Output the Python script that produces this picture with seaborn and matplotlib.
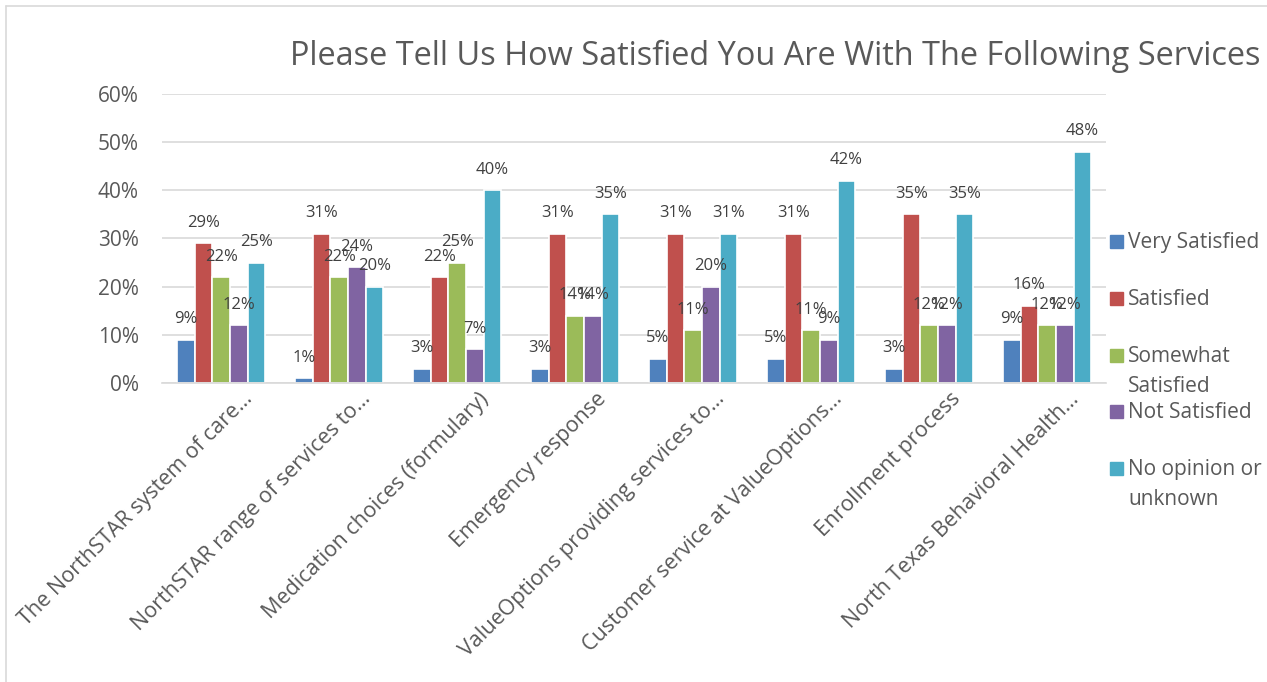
import matplotlib
matplotlib.use("Agg")
import matplotlib.pyplot as plt
import matplotlib.transforms as mtransforms
from matplotlib.lines import Line2D
from matplotlib.patches import Rectangle
import seaborn as sns
import pandas as pd

categories = [
    "The NorthSTAR system of care…",
    "NorthSTAR range of services to…",
    "Medication choices (formulary)",
    "Emergency response",
    "ValueOptions providing services to…",
    "Customer service at ValueOptions…",
    "Enrollment process",
    "North Texas Behavioral Health…",
]
series_names = ["Very Satisfied", "Satisfied", "Somewhat Satisfied",
                "Not Satisfied", "No opinion or unknown"]
legend_labels = ["Very Satisfied", "Satisfied", "Somewhat\nSatisfied",
                 "Not Satisfied", "No opinion or\nunknown"]
very_satisfied = [9, 1, 3, 3, 5, 5, 3, 9]
satisfied = [29, 31, 22, 31, 31, 31, 35, 16]
somewhat_satisfied = [22, 22, 25, 14, 11, 11, 12, 12]
not_satisfied = [12, 24, 7, 14, 20, 9, 12, 12]
no_opinion = [25, 20, 40, 35, 31, 42, 35, 48]
colors = ["#4F81BD", "#C0504D", "#9BBB59", "#8064A2", "#4BACC6"]
y_ticks = [0, 10, 20, 30, 40, 50, 60]

values = [very_satisfied, satisfied, somewhat_satisfied, not_satisfied, no_opinion]
rows = []
for name, vals in zip(series_names, values):
    for cat, v in zip(categories, vals):
        rows.append({"Category": cat, "Response": name, "Percent": v})
df = pd.DataFrame(rows)

sns.set_theme(style="white")
plt.rcParams["font.family"] = ["Open Sans", "DejaVu Sans"]
text_color = "#595959"

W, H = 1267, 682
fig = plt.figure(figsize=(W / 100, H / 100), dpi=100)
ax = fig.add_axes([0.128, 0.4384, 0.745, 0.4238])

sns.barplot(data=df, x="Category", y="Percent", hue="Response",
            order=categories, hue_order=series_names, palette=colors,
            width=0.75, saturation=1, ax=ax, legend=False,
            edgecolor="white", linewidth=1.2)

for container in ax.containers:
    ax.bar_label(container, fmt="%d%%", padding=9, fontsize=12,
                 color="#404040")

ax.set_ylim(0, 60)
ax.set_yticks(y_ticks)
ax.set_yticklabels([f"{t}%" for t in y_ticks], fontsize=15, color=text_color)
ax.yaxis.grid(True, color="#D9D9D9", linewidth=1.2)
ax.set_axisbelow(True)
for s in ["top", "right", "left"]:
    ax.spines[s].set_visible(False)
ax.spines["bottom"].set_color("#D9D9D9")
ax.spines["bottom"].set_linewidth(1.2)
ax.tick_params(axis="y", length=0, pad=17)
ax.tick_params(axis="x", length=0, pad=4)
ax.set_xlabel("")
ax.set_ylabel("")
ax.set_xticks(range(len(categories)))
ax.set_xticklabels(categories, rotation=45, ha="right", rotation_mode="anchor",
                   fontsize=15.5, color=text_color)
shift = mtransforms.ScaledTranslation(21 / 100, 0, fig.dpi_scale_trans)
for lbl in ax.get_xticklabels():
    lbl.set_transform(lbl.get_transform() + shift)
ax.set_xlim(-0.5, len(categories) - 0.5)

fig.text(0.612, 0.918, "Please Tell Us How Satisfied You Are With The Following Services",
         ha="center", va="center", fontsize=23.4, color=text_color)

# legend entries, marker square aligned with the first text line
first_line_y = [241, 298, 355, 411, 468]
for c, lab, yp in zip(colors, legend_labels, first_line_y):
    fig.add_artist(Rectangle((1110 / W, 1 - (yp + 6.5) / H), 13 / W, 13 / H,
                             color=c, transform=fig.transFigure))
    fig.text(1128 / W, 1 - (yp - 9) / H, lab, ha="left", va="top",
             fontsize=15, color=text_color, linespacing=1.57)

fig.add_artist(Line2D([6 / W, 6 / W], [0, 1 - 6 / H], color="#D9D9D9",
                      linewidth=1.2, transform=fig.transFigure))
fig.add_artist(Line2D([6 / W, 1], [1 - 6 / H, 1 - 6 / H], color="#D9D9D9",
                      linewidth=1.2, transform=fig.transFigure))

fig.savefig("out.png", dpi=100)
